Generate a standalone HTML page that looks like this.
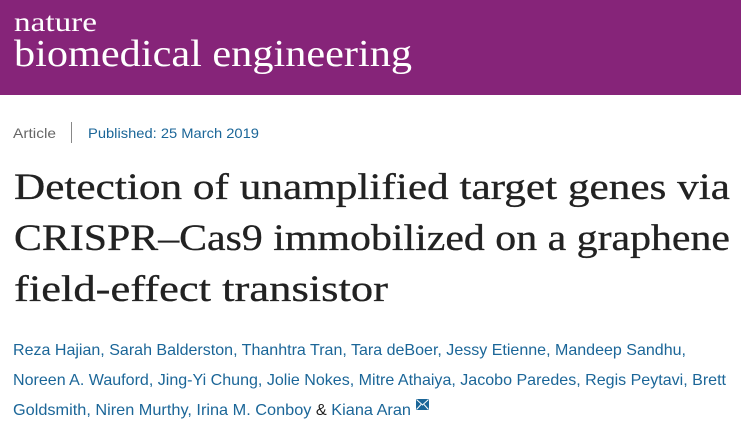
<!DOCTYPE html>
<html><head><meta charset="utf-8"><style>
html,body{margin:0;padding:0;background:#fff;width:741px;height:429px;overflow:hidden}
svg{display:block}
</style></head><body>
<svg width="741" height="429" xmlns="http://www.w3.org/2000/svg">
<rect x="0" y="0" width="741" height="95" fill="#862479"/>
<text x="14" y="31" font-family="Liberation Serif, serif" font-size="27" fill="#fff" textLength="83" lengthAdjust="spacingAndGlyphs">nature</text>
<text x="14" y="66" font-family="Liberation Serif, serif" font-size="38" fill="#fff" textLength="398" lengthAdjust="spacingAndGlyphs">biomedical engineering</text>
<text x="13" y="138" font-family="Liberation Sans, sans-serif" font-size="14" fill="#666" textLength="43" lengthAdjust="spacingAndGlyphs">Article</text>
<rect x="71" y="122" width="1" height="21" fill="#888"/>
<text x="88" y="138" font-family="Liberation Sans, sans-serif" font-size="14" fill="#1b6698" textLength="171" lengthAdjust="spacingAndGlyphs">Published: 25 March 2019</text>
<g font-family="Liberation Serif, serif" font-size="37" fill="#222" stroke="#222" stroke-width="0.3">
<text x="14" y="199" textLength="716" lengthAdjust="spacingAndGlyphs">Detection of unamplified target genes via</text>
<text x="14" y="250" textLength="716" lengthAdjust="spacingAndGlyphs">CRISPR–Cas9 immobilized on a graphene</text>
<text x="14" y="301" textLength="374" lengthAdjust="spacingAndGlyphs">field-effect transistor</text>
</g>
<g font-family="Liberation Sans, sans-serif" font-size="16" fill="#1b6698">
<text x="13" y="355" textLength="673" lengthAdjust="spacingAndGlyphs">Reza Hajian, Sarah Balderston, Thanhtra Tran, Tara deBoer, Jessy Etienne, Mandeep Sandhu,</text>
<text x="13" y="385" textLength="713" lengthAdjust="spacingAndGlyphs">Noreen A. Wauford, Jing-Yi Chung, Jolie Nokes, Mitre Athaiya, Jacobo Paredes, Regis Peytavi, Brett</text>
<text x="13" y="415" textLength="398" lengthAdjust="spacingAndGlyphs">Goldsmith, Niren Murthy, Irina M. Conboy <tspan fill="#222">&amp;</tspan> Kiana Aran</text>
</g>
<rect x="416" y="399" width="13" height="11" fill="#1b6698"/>
<path d="M416.5 399.5 L422.5 405 L428.5 399.5 M416.5 409.5 L421 404.5 M428.5 409.5 L424 404.5" stroke="#fff" stroke-width="1" fill="none"/>
</svg>
</body></html>
